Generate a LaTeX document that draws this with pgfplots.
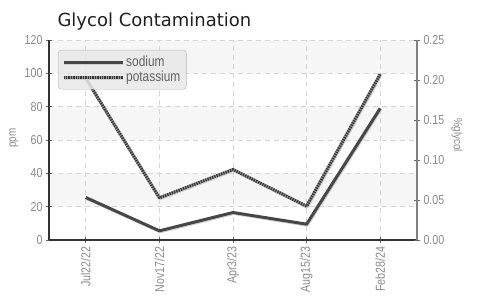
\documentclass[border=0pt]{standalone}
\usepackage{pgfplots}
\pgfplotsset{compat=1.18}
\usepackage{fontspec}
\setmainfont{DejaVu Sans}
\newfontfamily\cond[FakeStretch=0.82]{Liberation Sans}
\definecolor{ln}{HTML}{474747}
\definecolor{tk}{HTML}{8A8A8A}
\definecolor{band}{HTML}{F6F6F6}
\begin{document}
\begin{tikzpicture}
\begin{axis}[
  set layers,
  scale only axis, width=368pt, height=200pt,
  xmin=-0.5, xmax=4.5, ymin=0, ymax=120,
  xtick={0,1,2,3,4},
  xticklabels={Jul22/22,Nov17/22,Apr3/23,Aug15/23,Feb28/24},
  ytick={0,20,40,60,80,100,120},
  axis x line*=bottom, axis y line*=left,
  axis line style={draw=black!80, line width=1.1pt, -},
  grid=major,
  major grid style={black!16, line width=0.7pt, dash pattern=on 5pt off 4pt},
  tick align=center, major tick length=6pt,
  tick style={black!60, line width=0.8pt},
  /pgf/number format/assume math mode=true,
  x tick label style={rotate=90, anchor=east, font=\cond\fontsize{13}{13}\selectfont, text=tk},
  y tick label style={font=\cond\fontsize{13}{13}\selectfont, text=tk},
  ylabel={ppm},
  ylabel style={at={(axis description cs:0,0.5)}, anchor=center, yshift=35pt, xshift=2pt, font=\cond\fontsize{12}{12}\selectfont, text=tk},
  title={Glycol Contamination},
  title style={at={(axis description cs:0,1)}, anchor=base west, xshift=5pt, yshift=7pt, font=\fontsize{18}{18}\selectfont, text=black!88},
  legend style={at={(axis description cs:0,1)}, anchor=north west, xshift=9pt, yshift=-10pt,
    fill=black!9, fill opacity=0.85, text opacity=1, draw=black!28, rounded corners=3pt,
    font=\cond\fontsize{14.5}{16}\selectfont, text=black!62, inner xsep=4pt, inner ysep=4.5pt, row sep=0pt,
    nodes={inner xsep=2pt, inner ysep=1.5pt}},
  legend cell align=left,
  legend image code/.code={\draw[#1] (0pt,0pt) -- (59pt,0pt);},
]
\begin{pgfonlayer}{axis background}
\fill[band] (axis cs:-0.5,20) rectangle (axis cs:4.5,40);
\fill[band] (axis cs:-0.5,60) rectangle (axis cs:4.5,80);
\fill[band] (axis cs:-0.5,100) rectangle (axis cs:4.5,120);
\end{pgfonlayer}
\addplot[draw=ln, line width=3pt, line join=round,
  preaction={draw=black!18, line width=3pt, transform canvas={xshift=0.8pt,yshift=-1pt}}]
  coordinates {(0,25.5) (1,5.5) (2,16.5) (3,9.5) (4,79)};
\addlegendentry{sodium}
\addplot[draw=black!40, line width=3pt, line join=round,
  preaction={draw=black!18, line width=3pt, transform canvas={xshift=0.8pt,yshift=-1pt}},
  postaction={draw=black!78, line width=3pt, dash pattern=on 1.3pt off 1.1pt}]
  coordinates {(0,97) (1,25.3) (2,42.3) (3,20.3) (4,99.5)};
\addlegendentry{potassium}
\end{axis}
\begin{axis}[
  scale only axis, width=368pt, height=200pt,
  xmin=-0.5, xmax=4.5, ymin=0, ymax=0.25,
  hide x axis, axis y line*=right,
  axis line style={draw=black!50, line width=2.5pt, -},
  ytick={0,0.05,0.1,0.15,0.2,0.25},
  tick align=center, major tick length=6pt,
  tick style={black!60, line width=0.8pt},
  /pgf/number format/assume math mode=true,
  yticklabel style={/pgf/number format/.cd, fixed, fixed zerofill, precision=2, /tikz/.cd,
    font=\cond\fontsize{13}{13}\selectfont, text=tk},
  ylabel={\%glycol},
  ylabel style={at={(axis description cs:1,0.5)}, anchor=center, yshift=-40pt, xshift=5pt, rotate=180,
    font=\cond\fontsize{12}{12}\selectfont, text=tk},
]
\addplot[draw=none] coordinates {(0,0) (4,0.25)};
\end{axis}
\pgfresetboundingbox
\useasboundingbox (-49pt,-67pt) rectangle (434pt,240pt);
\end{tikzpicture}
\end{document}
